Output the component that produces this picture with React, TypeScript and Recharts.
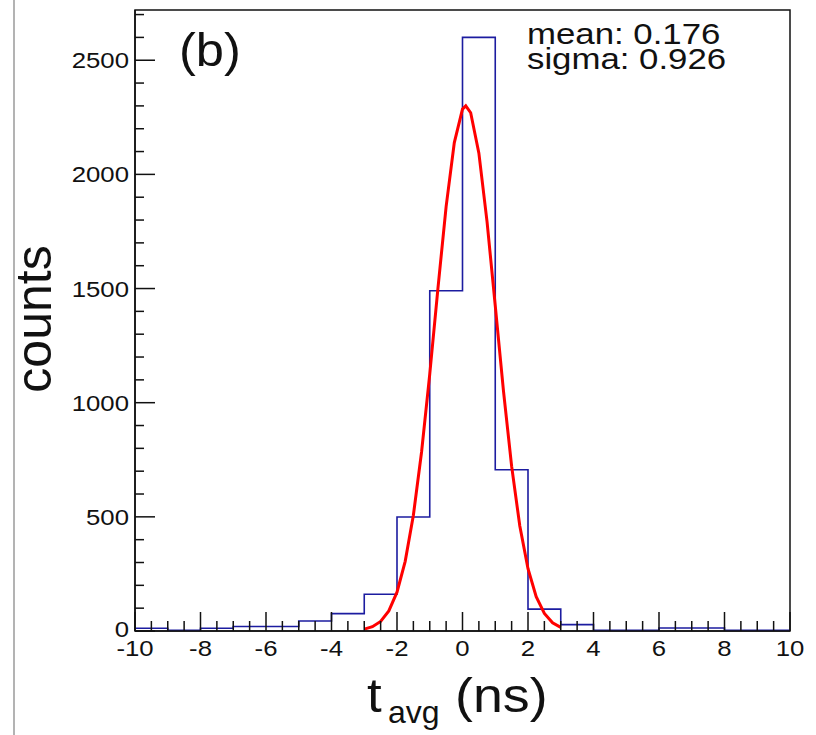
import { ComposedChart, Line, XAxis, YAxis, ReferenceArea } from "recharts"

// histogram: 1 ns bins from -10 to 10
const binEdges = [-10, -9, -8, -7, -6, -5, -4, -3, -2, -1, 0, 1, 2, 3, 4, 5, 6, 7, 8, 9, 10]
const binCounts = [12, 3, 12, 20, 20, 44, 76, 161, 499, 1490, 2600, 706, 96, 28, 3, 3, 13, 13, 3, 3]

// gaussian fit curve
const fitX = [-3, -2.75, -2.5, -2.25, -2, -1.75, -1.5, -1.25, -1, -0.75, -0.5, -0.25, 0, 0.1, 0.25, 0.5, 0.75, 1, 1.25, 1.5, 1.75, 2, 2.25, 2.5, 2.75, 3]
const fitCounts = [8, 19, 42, 88, 170, 305, 507, 784, 1125, 1501, 1859, 2139, 2286, 2300, 2270, 2093, 1792, 1425, 1053, 722, 460, 273, 150, 77, 36, 16]

const xTicks = [
    -10, -9.5, -9, -8.5, -8, -7.5, -7, -6.5, -6, -5.5, -5, -4.5, -4, -3.5, -3, -2.5, -2, -1.5, -1, -0.5,
    0, 0.5, 1, 1.5, 2, 2.5, 3, 3.5, 4, 4.5, 5, 5.5, 6, 6.5, 7, 7.5, 8, 8.5, 9, 9.5, 10,
]
const yTicks = [
    0, 100, 200, 300, 400, 500, 600, 700, 800, 900, 1000, 1100, 1200, 1300, 1400, 1500, 1600, 1700,
    1800, 1900, 2000, 2100, 2200, 2300, 2400, 2500, 2600, 2700,
]
const statLines = ["mean: 0.176", "sigma: 0.926"]

const histData = binEdges.map((x, i) => ({ x, hist: binCounts[Math.min(i, binCounts.length - 1)] }))
const fitData = fitX.map((x, i) => ({ x, fit: fitCounts[i] }))

const font = "'Liberation Sans', Arial, Helvetica, sans-serif"
const ink = "#111"

const XTick = (props: any) => {
    const { x, y, payload } = props
    const v = payload.value
    const major = Math.abs(v % 2) < 1e-6
    return (
        <g>
            <line x1={x} x2={x} y1={y} y2={y - (major ? 19 : 10)} stroke={ink} strokeWidth={1.5} />
            {major && (
                <text transform={`translate(${x},${y + 25}) scale(1.12,1)`} textAnchor="middle" fontSize={23} fontFamily={font} fill={ink}>
                    {v}
                </text>
            )}
        </g>
    )
}

const YTick = (props: any) => {
    const { x, y, payload } = props
    const v = payload.value
    const major = v % 500 === 0
    return (
        <g>
            <line x1={x} x2={x + (major ? 20 : 9)} y1={y} y2={y} stroke={ink} strokeWidth={1.5} />
            {major && (
                <text transform={`translate(${x - 6},${y + (v === 0 ? 6 : 8)}) scale(1.12,1)`} textAnchor="end" fontSize={23} fontFamily={font} fill={ink}>
                    {v}
                </text>
            )}
        </g>
    )
}

export default function App() {
    return (
        <div style={{ position: "absolute", left: 0, top: 0, width: 816, height: 735, background: "#fff" }}>
            <ComposedChart width={816} height={735} margin={{ top: 10, right: 26, bottom: 0, left: 0 }}>
                <XAxis
                    dataKey="x"
                    type="number"
                    domain={[-10, 10]}
                    ticks={xTicks}
                    interval={0}
                    tick={<XTick />}
                    tickSize={0}
                    tickMargin={0}
                    tickLine={false}
                    axisLine={{ stroke: ink, strokeWidth: 1.5 }}
                    height={104}
                    allowDataOverflow
                />
                <YAxis
                    type="number"
                    domain={[0, 2720]}
                    ticks={yTicks}
                    interval={0}
                    tick={<YTick />}
                    tickSize={0}
                    tickMargin={0}
                    tickLine={false}
                    axisLine={{ stroke: ink, strokeWidth: 1.5 }}
                    width={135}
                    allowDataOverflow
                />
                <ReferenceArea x1={-10} x2={10} y1={0} y2={2720} fill="none" stroke={ink} strokeWidth={1.5} />
                <Line
                    data={histData}
                    dataKey="hist"
                    type="stepAfter"
                    stroke="#1c1ca0"
                    strokeWidth={1.6}
                    dot={false}
                    isAnimationActive={false}
                />
                <Line
                    data={fitData}
                    dataKey="fit"
                    type="linear"
                    stroke="#ff0000"
                    strokeWidth={3}
                    dot={false}
                    isAnimationActive={false}
                />
            </ComposedChart>
            <svg width={816} height={735} style={{ position: "absolute", left: 0, top: 0, pointerEvents: "none" }}>
                <line x1={14} x2={14} y1={0} y2={735} stroke="#9a9a9a" strokeWidth={1.5} />
                <text transform="translate(179,66) scale(1.1,1)" fontSize={46} fontFamily={font} fill={ink}>
                    (b)
                </text>
                {statLines.map((s, i) => (
                    <text key={s} transform={`translate(527,${44 + i * 25}) scale(1.2,1)`} fontSize={29} fontFamily={font} fill={ink}>
                        {s}
                    </text>
                ))}
                <text transform="translate(51,319) rotate(-90)" textAnchor="middle" fontSize={50} fontFamily={font} fill={ink}>
                    counts
                </text>
                <text transform="translate(367,712) scale(1.1,1)" fontSize={48} fontFamily={font} fill={ink}>
                    t
                </text>
                <text transform="translate(388,723)" fontSize={32} fontFamily={font} fill={ink}>
                    avg
                </text>
                <text transform="translate(455,712) scale(1.12,1)" fontSize={48} fontFamily={font} fill={ink}>
                    (ns)
                </text>
            </svg>
        </div>
    )
}
